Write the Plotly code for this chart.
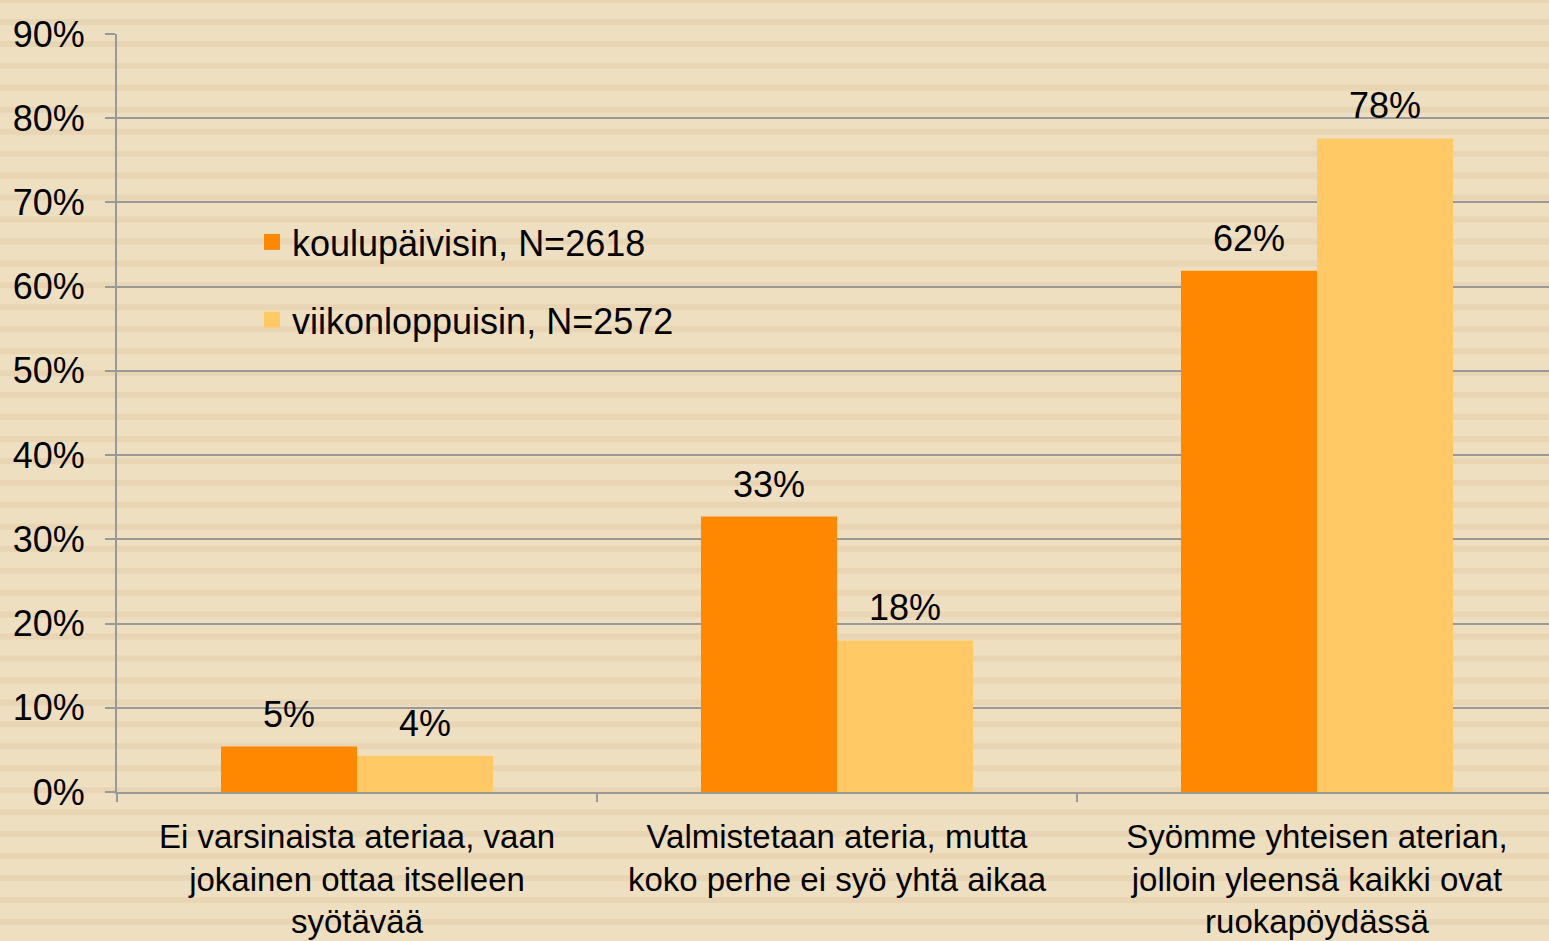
import plotly.graph_objects as go

# ---- data ----
categories = [
    "Ei varsinaista ateriaa, vaan<br>jokainen ottaa itselleen<br>syötävää",
    "Valmistetaan ateria, mutta<br>koko perhe ei syö yhtä aikaa",
    "Syömme yhteisen aterian,<br>jolloin yleensä kaikki ovat<br>ruokapöydässä",
]
series_names = ["koulupäivisin, N=2618", "viikonloppuisin, N=2572"]
koulupaivisin = [0.054, 0.327, 0.619]
viikonloppuisin = [0.043, 0.180, 0.776]
y_tickvals = [0, 0.1, 0.2, 0.3, 0.4, 0.5, 0.6, 0.7, 0.8, 0.9]
y_ticktext = ["0%", "10%", "20%", "30%", "40%", "50%", "60%", "70%", "80%", "90%"]

# ---- style ----
W, H = 1549, 941
ML, MR, MT, MB = 117, 0, 34, 149
COLORS = ["#FF8800", "#FFCA66"]
BG = "#EFDFC1"
STRIPE = "#E7D5B3"
GRID = "#999999"
FONT = "Liberation Sans, Arial, sans-serif"
FS = 36
FS_CAT = 33
BAR_SHIFT = 68  # px, half bar width, for label placement

fig = go.Figure()
for name, vals, col in zip(series_names, [koulupaivisin, viikonloppuisin], COLORS):
    fig.add_trace(go.Bar(x=categories, y=vals, name=name, marker_color=col,
                         marker_line_width=0, showlegend=False, hoverinfo="skip"))
for i, (name, col) in enumerate(zip(series_names, COLORS)):
    fig.add_trace(go.Scatter(x=[None], y=[None], mode="markers", name=name,
                             legendgroup=f"g{i}",
                             marker=dict(symbol="square", size=18, color=col)))

# data labels
for vals, shift in zip([koulupaivisin, viikonloppuisin], [-BAR_SHIFT, BAR_SHIFT]):
    for c, v in zip(categories, vals):
        fig.add_annotation(x=c, y=v, xref="x", yref="y", text=f"{v:.0%}",
                           showarrow=False, xshift=shift, yshift=10,
                           yanchor="bottom", font=dict(size=FS, color="black", family=FONT))

# background stripes
plot_h = H - MT - MB
shapes = []
period = 21.95
k = 0
while k * period < H + 5:
    c = k * period
    y0 = (H - MB - (c - 3)) / plot_h
    y1 = (H - MB - (c + 3)) / plot_h
    shapes.append(dict(type="rect", xref="paper", yref="paper",
                       x0=-ML / (W - ML - MR) - 0.01, x1=1.01, y0=y0, y1=y1,
                       fillcolor=STRIPE, line_width=0, layer="below"))
    k += 1

fig.update_layout(
    width=W, height=H,
    margin=dict(l=ML, r=MR, t=MT, b=MB, autoexpand=False),
    paper_bgcolor=BG, plot_bgcolor="rgba(0,0,0,0)",
    barmode="group", bargap=0.4333, bargroupgap=0,
    font=dict(family=FONT, size=FS, color="black"),
    shapes=shapes,
    showlegend=True,
    legend=dict(x=(252 - ML) / (W - ML - MR), y=(H - MB - 212) / plot_h,
                xanchor="left", yanchor="top", bgcolor="rgba(0,0,0,0)",
                traceorder="grouped", tracegroupgap=28,
                font=dict(size=FS, family=FONT, color="black")),
)
fig.update_xaxes(range=[-0.5, -0.5 + (W - ML - MR) / 480], showline=True,
                 linecolor=GRID, linewidth=2, ticks="outside", tickson="boundaries",
                 ticklen=8, tickcolor=GRID, tickwidth=2, tickangle=0,
                 ticklabelstandoff=14, automargin=False,
                 tickfont=dict(size=FS_CAT, family=FONT, color="black"))
fig.update_yaxes(range=[0, 0.9], tickvals=y_tickvals, ticktext=y_ticktext,
                 showgrid=True, gridcolor=GRID, gridwidth=2, showline=True,
                 linecolor=GRID, linewidth=2, ticks="outside", ticklen=10,
                 tickcolor=GRID, tickwidth=2, zeroline=False, automargin=False,
                 ticklabelstandoff=13,
                 tickfont=dict(size=FS, family=FONT, color="black"))

fig.write_html("out.html", config={"displayModeBar": False},
               post_script="document.body.style.margin='0';document.body.style.overflow='hidden';")
